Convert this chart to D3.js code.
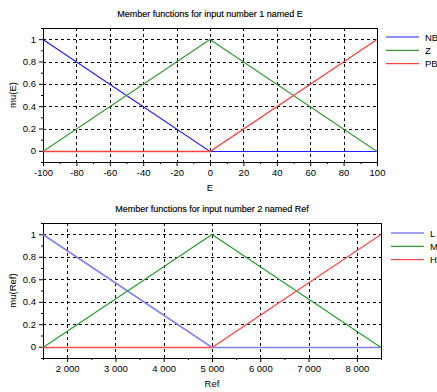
<!DOCTYPE html>
<html lang="en">
<head>
<meta charset="utf-8"/>
<title>Member functions</title>
<script src="https://d3js.org/d3.v7.min.js"></script>
<style>
	body { margin: 0; background: #fff; }
	text { font-family: "Liberation Sans", Arial, sans-serif; fill: #000; }
</style>
</head>
<body>
<script>
// data
	var xE = [-100, 0, 100];
	var nbE = [1, 0, 0];
	var zE = [0, 1, 0];
	var pbE = [0, 0, 1];
	var namesE = ["NB", "Z", "PB"];

	var xRef = [1500, 5000, 8500];
	var lRef = [1, 0, 0];
	var mRef = [0, 1, 0];
	var hRef = [0, 0, 1];
	var namesRef = ["L", "M", "H"];

	var yTicks = [0, 0.2, 0.4, 0.6, 0.8, 1];
	var xTicksE = [-100, -80, -60, -40, -20, 0, 20, 40, 60, 80, 100];
	var xTicksRef = [2000, 3000, 4000, 5000, 6000, 7000, 8000];

	var w = 437, h = 392;
	var svg = d3.select("body").append("svg").attr("width", w).attr("height", h);

	function panel(o) {
		var g = svg.append("g");
		var x = d3.scaleLinear().domain(o.xDomain).range([o.left, o.right]);
		var y = d3.scaleLinear().domain([-0.1, 1.1]).range([o.bottom, o.top]);

		// title
		g.append("text").attr("x", (o.left + o.right) / 2).attr("y", o.top - 11)
			.attr("text-anchor", "middle").attr("font-size", "9px")
			.attr("font-weight", "500").attr("stroke", "#000").attr("stroke-width", 0.15)
			.text(o.title);

		// dashed grid
		g.selectAll(".gx").data(o.xTicks.filter(function(d) {return x(d) > o.left + 1 && x(d) < o.right - 1;}))
			.enter().append("line")
			.attr("x1", function(d) {return Math.round(x(d)) + 0.5;})
			.attr("x2", function(d) {return Math.round(x(d)) + 0.5;})
			.attr("y1", o.top).attr("y2", o.bottom)
			.attr("stroke", "#000").attr("stroke-dasharray", "3,3");
		g.selectAll(".gy").data(yTicks).enter().append("line")
			.attr("x1", o.left).attr("x2", o.right)
			.attr("y1", function(d) {return Math.round(y(d)) + 0.5;})
			.attr("y2", function(d) {return Math.round(y(d)) + 0.5;})
			.attr("stroke", "#000").attr("stroke-dasharray", "3,3");

		// axes
		var xAxis = d3.axisBottom(x).tickValues(o.xTicks).tickSize(4).tickPadding(3)
			.tickFormat(o.fmt);
		var xMinor = d3.axisBottom(x).tickValues(o.xMinor).tickSize(2).tickFormat("");
		var yAxis = d3.axisLeft(y).tickValues(yTicks).tickSize(4).tickPadding(3)
			.tickFormat(function(d) {return d3.format("")(+d.toFixed(1));});
		var yMinor = d3.axisLeft(y).tickValues([-0.1, 0.1, 0.3, 0.5, 0.7, 0.9, 1.1]).tickSize(2).tickFormat("");

		[xAxis, xMinor].forEach(function(a) {
			var ax = g.append("g").attr("transform", "translate(0," + o.bottom + ")").call(a);
			ax.select(".domain").remove();
			ax.selectAll("text").attr("font-size", "9.5px").style("font-family", "'Liberation Sans', Arial, sans-serif");
		});
		[yAxis, yMinor].forEach(function(a) {
			var ax = g.append("g").attr("transform", "translate(" + o.left + ",0)").call(a);
			ax.select(".domain").remove();
			ax.selectAll("text").attr("font-size", "9.5px").style("font-family", "'Liberation Sans', Arial, sans-serif");
		});

		// frame
		g.append("rect").attr("x", o.left + 0.5).attr("y", o.top + 0.5)
			.attr("width", o.right - o.left).attr("height", o.bottom - o.top)
			.attr("fill", "none").attr("stroke", "#000");

		// axis labels
		g.append("text").attr("x", (o.left + o.right) / 2).attr("y", o.bottom + 29)
			.attr("text-anchor", "middle").attr("font-size", "9.5px").text(o.xLabel);
		g.append("text").attr("transform", "translate(16," + (o.top + o.bottom) / 2 + ") rotate(-90)")
			.attr("text-anchor", "middle").attr("font-size", "9.5px").text(o.yLabel);

		// member functions
		var line = d3.line().x(function(d) {return x(d[0]);}).y(function(d) {return Math.round(y(d[1])) + 0.5;});
		o.series.forEach(function(s) {
			var pts = o.xs.map(function(v, i) {return [v, s.values[i]];});
			g.append("path").datum(pts).attr("d", line)
				.attr("fill", "none").attr("stroke", s.color).attr("stroke-width", s.width);
		});

		// legend
		o.series.forEach(function(s, i) {
			var ly = o.legendY + i * 13.3;
			g.append("line").attr("x1", o.legendX).attr("x2", o.legendX + 33)
				.attr("y1", ly).attr("y2", ly).attr("stroke", s.color).attr("stroke-width", s.width);
			g.append("text").attr("x", o.legendX + 39).attr("y", ly + 3.5)
				.attr("font-size", "9.5px").text(s.name);
		});
	}

	panel({
		left: 43, right: 377, top: 28, bottom: 162,
		xDomain: [-100, 100], xTicks: xTicksE, xMinor: d3.range(-90, 100, 20),
		fmt: function(d) {return d;},
		title: "Member functions for input number 1 named E",
		xLabel: "E", yLabel: "mu(E)",
		xs: xE,
		series: [
			{name: namesE[0], values: nbE, color: "#2020ff", width: 1.2},
			{name: namesE[1], values: zE, color: "#3a9a3a", width: 1.2},
			{name: namesE[2], values: pbE, color: "#ff4040", width: 1.3}
		],
		legendX: 386, legendY: 37
	});

	panel({
		left: 43, right: 381, top: 223, bottom: 358,
		xDomain: [1500, 8500], xTicks: xTicksRef, xMinor: d3.range(1500, 8600, 1000),
		fmt: function(d) {return d3.format(",")(d).replace(",", " ");},
		title: "Member functions for input number 2 named Ref",
		xLabel: "Ref", yLabel: "mu(Ref)",
		xs: xRef,
		series: [
			{name: namesRef[0], values: lRef, color: "#8080ff", width: 1.6},
			{name: namesRef[1], values: mRef, color: "#2e9a2e", width: 1.2},
			{name: namesRef[2], values: hRef, color: "#ff5050", width: 1.3}
		],
		legendX: 391, legendY: 233
	});
</script>
</body>
</html>
